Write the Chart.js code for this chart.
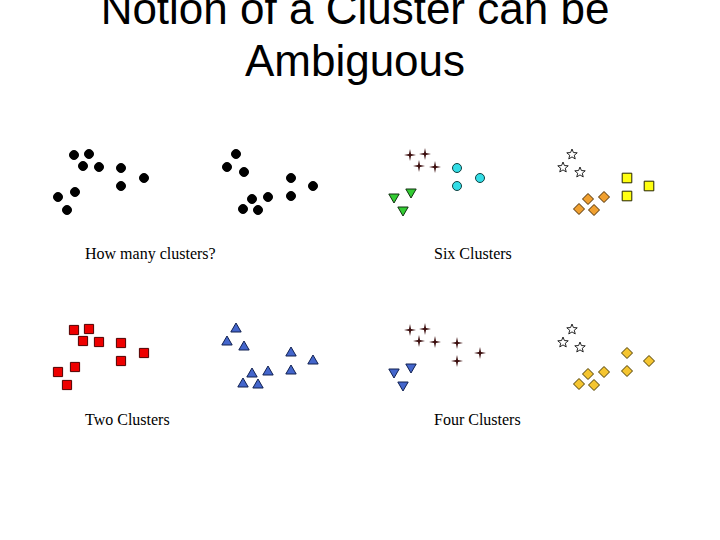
<!DOCTYPE html>
<html>
<head>
<meta charset="utf-8">
<script src="https://cdn.jsdelivr.net/npm/chart.js@4.4.1/dist/chart.umd.min.js"></script>
<style>
  body { margin: 0; background: #fff; }
  #slide { position: relative; width: 720px; height: 540px; overflow: hidden; background: #fff; }
  .title { position: absolute; left: -5px; width: 720px; text-align: center; font-family: "Liberation Sans", Arial, sans-serif; font-size: 44px; color: #000; line-height: 52px; }
  .label { position: absolute; font-family: "Liberation Serif", "Times New Roman", serif; font-size: 16px; color: #000; white-space: nowrap; }
  canvas { position: absolute; }
</style>
</head>
<body>
<div id="slide">
  <div class="title" style="top:-17px">Notion of a Cluster can be<br>Ambiguous</div>
  <div class="label" style="left:85px; top:245px">How many clusters?</div>
  <div class="label" style="left:434px; top:245px">Six Clusters</div>
  <div class="label" style="left:85px; top:411px">Two Clusters</div>
  <div class="label" style="left:434px; top:411px">Four Clusters</div>
  <canvas id="c1" width="300" height="90" style="left:40px; top:140px"></canvas>
  <canvas id="c2" width="300" height="90" style="left:376px; top:140px"></canvas>
  <canvas id="c3" width="300" height="90" style="left:40px; top:315px"></canvas>
  <canvas id="c4" width="300" height="90" style="left:376px; top:315px"></canvas>
</div>
<script>
// the same 20 points are shown in every panel, in two groups of ten
const leftX = [34, 49, 43, 59, 81, 81, 104, 35, 18, 27];
const leftY = [15, 14, 26, 27, 28, 46, 38, 52, 57, 70];
const rightX = [196, 187, 204, 251, 273, 251, 212, 228, 203, 218];
const rightY = [14, 27, 32, 38, 46, 56, 59, 57, 69, 70];

function pts(xs, ys, from, to) {
    const out = [];
    for (let i = from; i < to; i++) out.push({ x: xs[i], y: ys[i] });
    return out;
}

// 4-pointed star
function makeSparkle(color) {
    const c = document.createElement('canvas');
    c.width = 12; c.height = 12;
    const g = c.getContext('2d');
    g.fillStyle = color;
    g.beginPath();
    g.moveTo(6, 0); g.lineTo(7, 5); g.lineTo(12, 6); g.lineTo(7, 7);
    g.lineTo(6, 12); g.lineTo(5, 7); g.lineTo(0, 6); g.lineTo(5, 5);
    g.closePath();
    g.fill();
    return c;
}

// 5-pointed outline star
function makeStar() {
    const c = document.createElement('canvas');
    c.width = 12; c.height = 12;
    const g = c.getContext('2d');
    g.beginPath();
    for (let i = 0; i < 10; i++) {
        const r = i % 2 === 0 ? 5.5 : 2.4;
        const a = -Math.PI / 2 + i * Math.PI / 5;
        const px = 6 + r * Math.cos(a), py = 6.5 + r * Math.sin(a);
        if (i === 0) g.moveTo(px, py); else g.lineTo(px, py);
    }
    g.closePath();
    g.fillStyle = '#ffffff';
    g.fill();
    g.strokeStyle = '#222222';
    g.lineWidth = 1;
    g.stroke();
    return c;
}

const sparkle = makeSparkle('#3a0c0c');
const star = makeStar();

function ds(data, style, fill, border, radius, rotation) {
    return {
        data: data,
        pointStyle: style,
        backgroundColor: fill,
        borderColor: border,
        pointBorderWidth: 1,
        pointRadius: radius,
        pointHoverRadius: radius,
        rotation: rotation || 0,
        clip: false
    };
}

function drawPanel(id, datasets) {
    new Chart(document.getElementById(id), {
        type: 'scatter',
        data: { datasets: datasets },
        options: {
            responsive: false,
            animation: false,
            layout: { padding: 0, autoPadding: false },
            plugins: { legend: { display: false }, tooltip: { enabled: false } },
            scales: {
                x: { display: false, min: 0, max: 300 },
                y: { display: false, min: 0, max: 90, reverse: true }
            }
        }
    });
}

// How many clusters?
drawPanel('c1', [
    ds(pts(leftX, leftY, 0, 10), 'circle', '#000000', '#000000', 4.5),
    ds(pts(rightX, rightY, 0, 10), 'circle', '#000000', '#000000', 4.5)
]);

// Six Clusters
drawPanel('c2', [
    ds(pts(leftX, leftY, 0, 4), sparkle, '#3a0c0c', '#3a0c0c', 6),
    ds(pts(leftX, leftY, 4, 7), 'circle', '#33dde6', '#104040', 4.5),
    ds(pts(leftX, leftY, 7, 10), 'triangle', '#33cc33', '#103010', 6, 180),
    ds(pts(rightX, rightY, 0, 3), star, '#ffffff', '#333333', 6),
    ds(pts(rightX, rightY, 3, 6), 'rect', '#ffff11', '#222200', 6.8),
    ds(pts(rightX, rightY, 6, 10), 'rectRot', '#f0a030', '#4a2a00', 5.5)
]);

// Two Clusters
drawPanel('c3', [
    ds(pts(leftX, leftY, 0, 10), 'rect', '#ee0000', '#500000', 6.5),
    ds(pts(rightX, rightY, 0, 10), 'triangle', '#4466cc', '#102050', 6)
]);

// Four Clusters
drawPanel('c4', [
    ds(pts(leftX, leftY, 0, 7), sparkle, '#3a0c0c', '#3a0c0c', 6),
    ds(pts(leftX, leftY, 7, 10), 'triangle', '#4466cc', '#102050', 6, 180),
    ds(pts(rightX, rightY, 0, 3), star, '#ffffff', '#333333', 6),
    ds(pts(rightX, rightY, 3, 10), 'rectRot', '#f5c530', '#4a3a00', 5.5)
]);
</script>
</body>
</html>
